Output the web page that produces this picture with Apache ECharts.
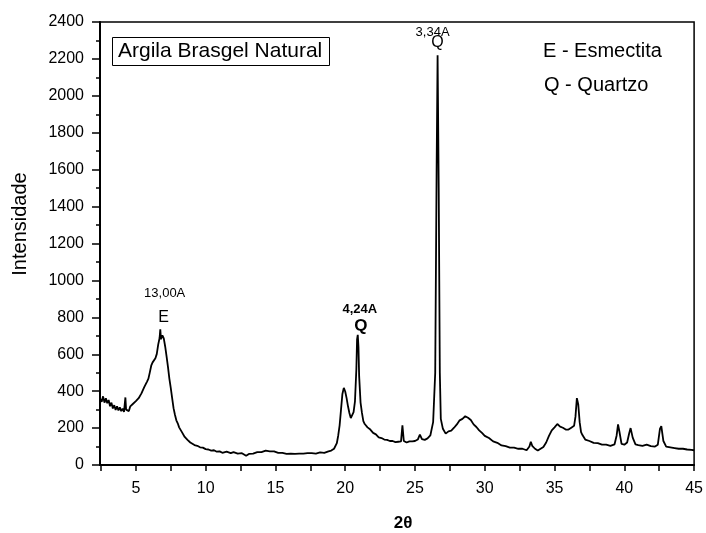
<!DOCTYPE html>
<html>
<head>
<meta charset="utf-8">
<script src="https://cdn.jsdelivr.net/npm/echarts@6/dist/echarts.min.js"></script>
<style>
  html, body { margin: 0; padding: 0; background: #fff; }
  #chart { width: 706px; height: 533px; }
</style>
</head>
<body>
<div id="chart"></div>
<script>
// X-ray diffraction pattern: 2θ (degrees) against counted intensity
const twoTheta = [
  2.45, 2.55, 2.65, 2.75, 2.85, 2.95, 3.05, 3.15, 3.25, 3.35, 3.45, 3.55, 3.65, 3.75, 3.85, 3.95,
  4.05, 4.15, 4.25, 4.3, 4.4, 4.5, 4.6, 4.7, 4.8, 4.9, 5.0, 5.1, 5.2, 5.3, 5.4, 5.5, 5.6, 5.7, 5.8, 5.9,
  6.0, 6.1, 6.2, 6.3, 6.4, 6.5, 6.6, 6.7, 6.75, 6.8, 6.9, 7.0, 7.1, 7.2, 7.3, 7.4, 7.5, 7.6, 7.7, 7.8, 7.9,
  8.0, 8.1, 8.2, 8.3, 8.4, 8.5, 8.6, 8.7, 8.8, 8.9, 9.0, 9.2, 9.4, 9.6, 9.8, 10.0, 10.2, 10.4, 10.6, 10.8,
  11.0, 11.2, 11.5, 11.8, 12.0, 12.3, 12.6, 12.9, 13.1, 13.4, 13.7, 14.0, 14.3, 14.6, 14.9, 15.2, 15.5,
  15.8, 16.1, 16.4, 16.7, 17.0, 17.3, 17.6, 17.9, 18.2, 18.5, 18.8, 19.0, 19.2, 19.4, 19.5, 19.6, 19.7,
  19.8, 19.9, 19.95, 20.0, 20.1, 20.2, 20.3, 20.4, 20.5, 20.6, 20.7, 20.8, 20.85, 20.9, 20.95, 21.0, 21.1,
  21.2, 21.3, 21.4, 21.6, 21.8, 22.0, 22.2, 22.4, 22.6, 22.8, 23.0, 23.2, 23.4, 23.6, 23.8, 24.0, 24.1,
  24.2, 24.4, 24.6, 24.8, 25.0, 25.2, 25.35, 25.5, 25.7, 25.9, 26.1, 26.3, 26.45, 26.55, 26.62, 26.7,
  26.78, 26.85, 27.0, 27.2, 27.4, 27.6, 27.8, 28.0, 28.2, 28.4, 28.6, 28.7, 28.8, 29.0, 29.2, 29.4, 29.6,
  29.8, 30.0, 30.3, 30.6, 30.9, 31.2, 31.5, 31.8, 32.1, 32.4, 32.7, 33.0, 33.2, 33.3, 33.4, 33.6, 33.8,
  34.0, 34.2, 34.4, 34.6, 34.8, 35.0, 35.2, 35.4, 35.6, 35.8, 36.0, 36.2, 36.4, 36.5, 36.6, 36.7, 36.8,
  36.9, 37.0, 37.2, 37.5, 37.8, 38.1, 38.4, 38.7, 39.0, 39.3, 39.45, 39.55, 39.65, 39.8, 40.0, 40.2,
  40.35, 40.45, 40.6, 40.8, 41.0, 41.3, 41.6, 41.9, 42.2, 42.4, 42.55, 42.65, 42.8, 43.0, 43.3, 43.6,
  43.9, 44.2, 44.5, 44.8, 45.0
];
const intensity = [
  358, 342, 372, 338, 362, 335, 352, 318, 338, 306, 324, 298, 318, 296, 312, 292,
  305, 288, 366, 300, 306, 292, 318, 308, 332, 322, 346, 338, 362, 368, 388, 398, 422, 428, 452, 468,
  502, 538, 556, 566, 578, 602, 652, 688, 735, 682, 702, 686, 642, 588, 532, 468, 418, 362, 308, 272, 242,
  226, 204, 196, 178, 168, 152, 146, 136, 132, 122, 120, 108, 104, 96, 94, 86, 84, 78, 80, 72,
  74, 66, 72, 64, 70, 62, 64, 50, 60, 62, 70, 70, 78, 74, 74, 66, 66,
  60, 62, 60, 62, 62, 64, 64, 62, 68, 66, 74, 78, 88, 118, 160, 215, 300,
  385, 418, 428, 398, 362, 318, 282, 254, 262, 286, 345, 520, 680, 705, 640, 480, 338,
  282, 238, 222, 204, 192, 174, 166, 150, 146, 138, 136, 130, 130, 124, 126, 128, 215,
  130, 122, 128, 128, 130, 138, 165, 140, 136, 144, 160, 232, 500, 1600, 2220, 1500,
  500, 250, 196, 170, 182, 186, 202, 220, 242, 250, 264, 270, 256, 244, 220, 206, 188,
  174, 158, 146, 128, 120, 106, 102, 94, 94, 88, 88, 80, 100, 126, 104, 88, 78,
  88, 98, 122, 158, 188, 204, 222, 208, 202, 192, 192, 202, 212, 262, 362, 328, 232,
  178, 162, 138, 130, 120, 118, 110, 110, 104, 112, 160, 220, 180, 114, 110, 122,
  172, 200, 148, 112, 108, 104, 110, 102, 100, 110, 195, 210, 130, 100, 96, 92,
  88, 88, 84, 82, 80
];

// Axis ticks
const xTickValues = [2.5, 5, 7.5, 10, 12.5, 15, 17.5, 20, 22.5, 25, 27.5, 30, 32.5, 35, 37.5, 40, 42.5, 45];
const xLabelValues = [5, 10, 15, 20, 25, 30, 35, 40, 45];

// Indexed reflections: position (2θ), d-spacing, phase
const peakAt = [6.85, 20.9, 26.62];
const peakSpacing = ['13,00A', '4,24A', '3,34A'];
const peakPhase = ['E', 'Q', 'Q'];

const phaseKey = ['E - Esmectita', 'Q - Quartzo'];
const sampleName = 'Argila Brasgel Natural';
const xName = '2θ';
const yName = 'Intensidade';

const FONT = '"Liberation Sans", Arial, Helvetica, sans-serif';

// top of each indexed reflection, taken from the measured pattern
const peakTop = peakAt.map(p => {
  let best = 0;
  twoTheta.forEach((t, i) => { if (Math.abs(t - p) <= 0.12 && intensity[i] > best) best = intensity[i]; });
  return best;
});

// label placement (pixels above the reflection top / horizontal nudge)
const phaseStyle = [
  { dx: 2, up: 12, size: 16, weight: 'normal' },
  { dx: 3, up: 9, size: 17, weight: 'bold' },
  { dx: 0, up: 13, size: 16, weight: 'normal' }
];
const spacingStyle = [
  { dx: 3, up: 36, size: 13, weight: 'normal' },
  { dx: 2, up: 25, size: 13, weight: 'bold' },
  { dx: -5, up: 23, size: 13, weight: 'normal' }
];

function noteData(texts, styles) {
  return peakAt.map((p, i) => ({
    value: [p, peakTop[i]],
    name: texts[i],
    label: {
      offset: [styles[i].dx, -styles[i].up],
      fontSize: styles[i].size,
      fontWeight: styles[i].weight
    }
  }));
}

function noteSeries(name, texts, styles) {
  return {
    name: name,
    type: 'scatter',
    symbolSize: 0,
    silent: true,
    z: 5,
    itemStyle: { opacity: 1, color: '#000' },
    data: noteData(texts, styles),
    label: {
      show: true, position: 'inside', color: '#000', opacity: 1,
      fontFamily: FONT, formatter: p => p.name
    },
    emphasis: { disabled: true }
  };
}

const chart = echarts.init(document.getElementById('chart'), null, { renderer: 'canvas' });

chart.setOption({
  animation: false,
  backgroundColor: '#fff',
  textStyle: { fontFamily: FONT, color: '#000' },
  title: {
    text: sampleName,
    left: 112,
    top: 37,
    padding: [4, 7, 4, 6],
    borderColor: '#000',
    borderWidth: 1,
    textStyle: { fontFamily: FONT, fontSize: 21, fontWeight: 'normal', color: '#000' }
  },
  grid: {
    left: 100, right: 9, top: 22, bottom: 68,
    show: true, borderColor: '#000', borderWidth: 1.5, backgroundColor: 'transparent'
  },
  xAxis: {
    type: 'value',
    min: 2.43,
    max: 45,
    splitLine: { show: false },
    axisLine: { show: true, onZero: false, lineStyle: { color: '#000', width: 2 } },
    axisTick: { show: true, inside: false, length: 6, customValues: xTickValues, lineStyle: { color: '#000', width: 1.5 } },
    axisLabel: { customValues: xLabelValues, fontSize: 16, color: '#000', margin: 16, fontFamily: FONT }
  },
  yAxis: {
    type: 'value',
    min: 0,
    max: 2400,
    interval: 200,
    splitLine: { show: false },
    axisLine: { show: true, lineStyle: { color: '#000', width: 2 } },
    axisTick: { show: true, inside: false, length: 8, lineStyle: { color: '#000', width: 1.5 } },
    minorTick: { show: true, splitNumber: 2, length: 4, lineStyle: { color: '#000', width: 1.5 } },
    axisLabel: { fontSize: 16, color: '#000', margin: 16, fontFamily: FONT, formatter: v => String(v) }
  },
  series: [
    {
      name: yName,
      type: 'line',
      data: twoTheta.map((t, i) => [t, intensity[i]]),
      showSymbol: false,
      symbol: 'none',
      lineStyle: { color: '#000', width: 1.8 },
      emphasis: { disabled: true },
      z: 3
    },
    noteSeries('phase', peakPhase, phaseStyle),
    noteSeries('spacing', peakSpacing, spacingStyle)
  ],
  graphic: [
    {
      type: 'text', x: 543, y: 51, silent: true,
      style: { text: phaseKey[0], fontFamily: FONT, fontSize: 20, fill: '#000', verticalAlign: 'middle' }
    },
    {
      type: 'text', x: 544, y: 85, silent: true,
      style: { text: phaseKey[1], fontFamily: FONT, fontSize: 20, fill: '#000', verticalAlign: 'middle' }
    },
    {
      type: 'text', x: 20, y: 224, rotation: Math.PI / 2, silent: true,
      style: { text: yName, fontFamily: FONT, fontSize: 20, fill: '#000', align: 'center', verticalAlign: 'middle' }
    },
    {
      type: 'text', x: 403, y: 523, silent: true,
      style: { text: xName, fontFamily: FONT, fontSize: 17, fontWeight: 'bold', fill: '#000', align: 'center', verticalAlign: 'middle' }
    }
  ]
});
</script>
</body>
</html>
